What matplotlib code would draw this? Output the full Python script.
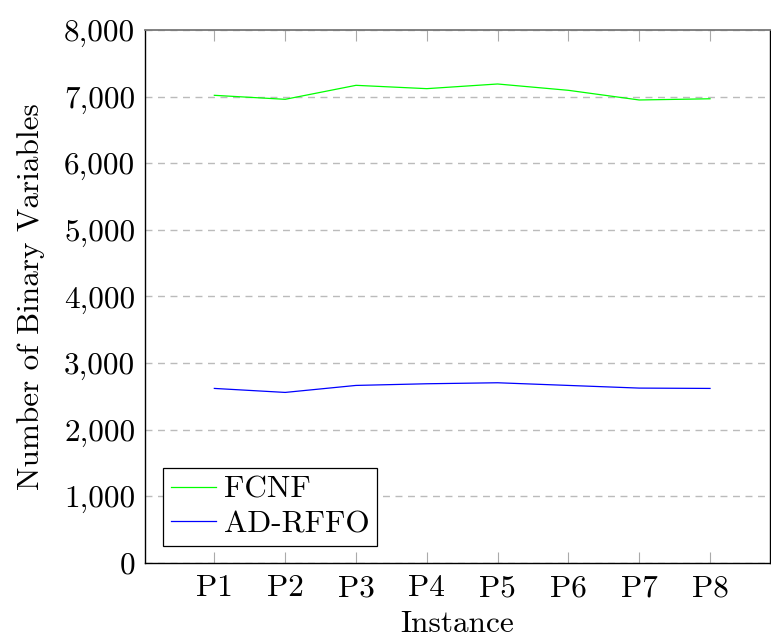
import matplotlib
matplotlib.use('Agg')
import matplotlib.pyplot as plt
from matplotlib.ticker import FuncFormatter

plt.rcParams['font.family'] = 'serif'
plt.rcParams['font.serif'] = ['cmr10', 'DejaVu Serif']
plt.rcParams['mathtext.fontset'] = 'cm'
plt.rcParams['axes.formatter.use_mathtext'] = True

# data
instances = ['P1', 'P2', 'P3', 'P4', 'P5', 'P6', 'P7', 'P8']
fcnf = [7020, 6960, 7170, 7120, 7190, 7095, 6950, 6968]
ad_rffo = [2620, 2560, 2665, 2690, 2705, 2665, 2625, 2620]

x = list(range(1, len(instances) + 1))
FS = 22.5

fig = plt.figure(figsize=(7.71, 6.39), dpi=100)
ax = fig.add_axes([0.188, 0.119, 0.811, 0.834])

ax.plot(x, fcnf, color='#00ff00', lw=0.9, label='FCNF')
ax.plot(x, ad_rffo, color='#0000ff', lw=0.9, label='AD-RFFO')

ax.set_xlim(0.02, 8.85)
ax.set_ylim(0, 8000)
ax.set_xticks(x)
ax.set_xticklabels(instances)
ax.set_yticks(range(0, 8001, 1000))
ax.yaxis.set_major_formatter(FuncFormatter(lambda v, p: f'{int(v):,}'))

ax.grid(axis='y', color='#bbbbbb', ls=(0, (5, 4)), lw=1.0)
ax.set_axisbelow(True)

ax.tick_params(axis='x', top=True, bottom=True, direction='in', length=8,
               color='#aaaaaa', width=0.8, labelsize=FS, pad=8)
ax.tick_params(axis='y', length=0, labelsize=FS, pad=7)

for side in ['left', 'bottom', 'right']:
    ax.spines[side].set_color('black')
    ax.spines[side].set_linewidth(1.0)
ax.spines['top'].set_color('#777777')
ax.spines['top'].set_linewidth(1.3)

ax.set_xlabel('Instance', fontsize=FS, labelpad=6)
ax.set_ylabel('Number of Binary Variables', fontsize=FS, labelpad=14)

leg = ax.legend(loc='lower left', fontsize=FS, fancybox=False, framealpha=1,
                edgecolor='black', borderaxespad=0.0, bbox_to_anchor=(0.029, 0.032),
                handlelength=1.45, handletextpad=0.25, borderpad=0.25, labelspacing=0.2)
leg.get_frame().set_linewidth(0.9)

fig.savefig('out.png', dpi=100)
